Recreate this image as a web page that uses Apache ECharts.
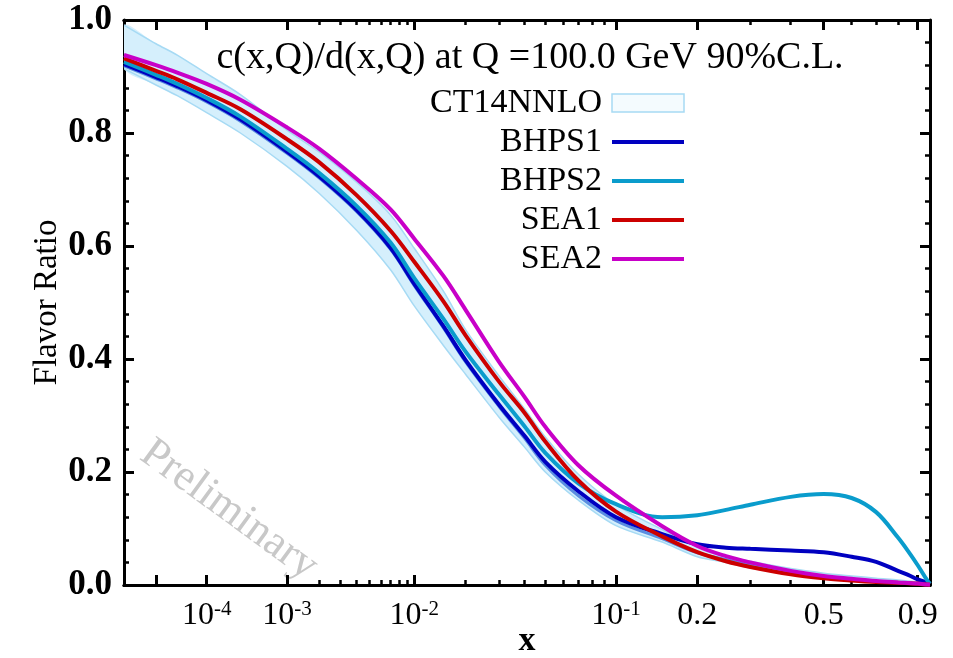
<!DOCTYPE html>
<html><head><meta charset="utf-8">
<script src="https://cdn.jsdelivr.net/npm/echarts@6/dist/echarts.min.js"></script>
<style>html,body{margin:0;padding:0;background:#fff}#c{width:953px;height:658px}</style>
</head><body><div id="c"></div>
<script>
// ---- data (x values, c/d ratio values) ----
const xs      = [1e-6, 1e-5, 3e-5, 1e-4, 3e-4, 1e-3, 2e-3, 4e-3, 7e-3, 1e-2, 1.5e-2, 2e-2, 3e-2, 4e-2, 5e-2, 7e-2, 0.1, 0.15, 0.2, 0.25, 0.3, 0.4, 0.5, 0.6, 0.7, 0.8, 0.85, 0.9, 0.95, 0.967];
const ct14Lo  = [0.914, 0.885, 0.866, 0.836, 0.800, 0.741, 0.693, 0.628, 0.558, 0.494, 0.424, 0.373, 0.297, 0.244, 0.200, 0.150, 0.105, 0.076, 0.050, 0.040, 0.030, 0.019, 0.012, 0.008, 0.005, 0.003, 0.002, 0.0012, 0.0004, 0.0];
const ct14Hi  = [0.991, 0.958, 0.938, 0.905, 0.868, 0.805, 0.766, 0.713, 0.655, 0.596, 0.520, 0.452, 0.370, 0.312, 0.262, 0.196, 0.142, 0.098, 0.068, 0.052, 0.042, 0.029, 0.021, 0.016, 0.012, 0.009, 0.007, 0.005, 0.002, 0.001];
const ct14Mid = [0.919, 0.896, 0.880, 0.855, 0.821, 0.764, 0.720, 0.661, 0.594, 0.530, 0.455, 0.395, 0.316, 0.260, 0.212, 0.158, 0.114, 0.082, 0.057, 0.045, 0.035, 0.023, 0.015, 0.010, 0.0065, 0.0045, 0.0035, 0.0025, 0.001, 0.0005];
const bhps1   = [0.922, 0.899, 0.883, 0.858, 0.824, 0.767, 0.723, 0.664, 0.597, 0.533, 0.458, 0.398, 0.319, 0.264, 0.218, 0.166, 0.120, 0.090, 0.072, 0.066, 0.064, 0.061, 0.058, 0.050, 0.041, 0.025, 0.018, 0.010, 0.0045, 0.002];
const bhps2   = [0.926, 0.903, 0.887, 0.862, 0.829, 0.772, 0.729, 0.671, 0.606, 0.543, 0.471, 0.413, 0.337, 0.281, 0.234, 0.180, 0.143, 0.120, 0.1235, 0.133, 0.142, 0.156, 0.161, 0.154, 0.129, 0.084, 0.060, 0.035, 0.009, 0.002];
const sea1    = [0.932, 0.910, 0.895, 0.871, 0.842, 0.789, 0.748, 0.690, 0.627, 0.572, 0.502, 0.442, 0.360, 0.305, 0.254, 0.185, 0.130, 0.086, 0.058, 0.042, 0.032, 0.019, 0.012, 0.008, 0.0053, 0.004, 0.003, 0.002, 0.001, 0.0005];
const sea2    = [0.938, 0.920, 0.907, 0.887, 0.859, 0.810, 0.772, 0.719, 0.665, 0.613, 0.547, 0.487, 0.395, 0.333, 0.280, 0.212, 0.158, 0.104, 0.069, 0.051, 0.040, 0.025, 0.016, 0.011, 0.007, 0.0045, 0.0035, 0.0025, 0.001, 0.0005];

// ---- axis ticks / labels ----
const xMajorTicks = [1e-5, 1e-4, 1e-3, 1e-2, 0.1, 0.2, 0.5, 0.9];
const xMinorTicks = [2e-3,3e-3,4e-3,5e-3,6e-3,7e-3,8e-3,9e-3, 2e-2,3e-2,4e-2,5e-2,6e-2,7e-2,8e-2,9e-2, 0.3,0.4,0.6,0.7,0.8];
const xLabelTicks = [1e-4, 1e-3, 1e-2, 0.1, 0.2, 0.5, 0.9];
const xLabelBase  = ['10', '10', '10', '10', '0.2', '0.5', '0.9'];
const xLabelSup   = ['-4', '-3', '-2', '-1', '', '', ''];
const legendNames  = ['CT14NNLO', 'BHPS1', 'BHPS2', 'SEA1', 'SEA2'];
const titleText = 'c(x,Q)/d(x,Q) at Q =100.0 GeV 90%C.L.';

const C_BHPS1 = '#0000c0', C_BHPS2 = '#0a9ccc', C_SEA1 = '#cc0000', C_SEA2 = '#c800c8';
const C_BAND = '#d5effc', C_BAND_EDGE = '#a6daf4', C_MID = '#5a8ee0';
const FF = '"Liberation Serif","Times New Roman",serif';

const P = 0.2;
const T = v => Math.pow(v, P);
const X_MIN = 1e-6, X_MAX = 0.967;

function pts(ys) { return xs.map((x, i) => [T(x), ys[i]]); }
function xLabelFmt(v) {
  for (let i = 0; i < xLabelTicks.length; i++) {
    if (Math.abs(T(xLabelTicks[i]) - v) < 1e-6) {
      return xLabelSup[i] ? '{b|' + xLabelBase[i] + '}{s|' + xLabelSup[i] + '}' : '{b|' + xLabelBase[i] + '}';
    }
  }
  return '';
}

function xAx(pos, ticks, len, withLabels) {
  const a = {
    type: 'value', position: pos, min: T(X_MIN), max: T(X_MAX),
    axisLine: { show: true, onZero: false, lineStyle: { color: '#000', width: 3 } },
    axisTick: { show: true, inside: true, length: len, lineStyle: { color: '#000', width: len > 6 ? 3 : 2.5 }, customValues: ticks.map(T) },
    splitLine: { show: false },
    axisLabel: { show: false }
  };
  if (withLabels) {
    a.axisLabel = {
      show: true, customValues: xLabelTicks.map(T), formatter: xLabelFmt, margin: 14,
      rich: {
        b: { fontFamily: FF, fontSize: 32, color: '#000', lineHeight: 34 },
        s: { fontFamily: FF, fontSize: 21, color: '#000', verticalAlign: 'top', lineHeight: 34 }
      }
    };
    a.name = 'x';
    a.nameLocation = 'middle';
    a.nameGap = 39;
    a.nameMoveOverlap = false;
    a.nameTextStyle = { fontFamily: FF, fontSize: 34, fontWeight: 'bold', color: '#000' };
  }
  return a;
}
function yAx(pos, withLabels) {
  const a = {
    type: 'value', position: pos, min: 0, max: 1, interval: 0.2,
    axisLine: { show: true, onZero: false, lineStyle: { color: '#000', width: 3 } },
    axisTick: { show: true, inside: true, length: 10, lineStyle: { color: '#000', width: 3 } },
    minorTick: { show: true, splitNumber: 5, length: 5, lineStyle: { color: '#000', width: 2.5 } },
    splitLine: { show: false }, minorSplitLine: { show: false },
    axisLabel: { show: false }
  };
  if (withLabels) {
    a.axisLabel = { show: true, formatter: v => v.toFixed(1), fontFamily: FF, fontSize: 35, fontWeight: 'bold', color: '#000', margin: 12 };
    a.name = 'Flavor Ratio';
    a.nameLocation = 'middle';
    a.nameGap = 60;
    a.nameMoveOverlap = false;
    a.nameTextStyle = { fontFamily: FF, fontSize: 33, color: '#000' };
  }
  return a;
}

function lineSeries(name, ys, color, w) {
  return { name: name, type: 'line', data: pts(ys), symbol: 'none', smooth: 0.35,
    lineStyle: { color: color, width: w }, xAxisIndex: 0, yAxisIndex: 0 };
}

const legendColors = [null, C_BHPS1, C_BHPS2, C_SEA1, C_SEA2];
const legendY = [103, 142, 181, 220, 259];
const graphic = [
  { type: 'text', x: 530, y: 58, style: { text: titleText, font: '38px ' + FF, fill: '#000', textAlign: 'center', textVerticalAlign: 'middle' } },
  { type: 'text', x: 229, y: 510, rotation: -0.63, style: { text: 'Preliminary', font: '44px ' + FF, fill: '#c8c8c8', textAlign: 'center', textVerticalAlign: 'middle' }, z: 0 }
];
legendNames.forEach((n, i) => {
  graphic.push({ type: 'text', x: 602, y: legendY[i], style: { text: n, font: '34px ' + FF, fill: '#000', textAlign: 'right', textVerticalAlign: 'middle' } });
  if (legendColors[i]) {
    graphic.push({ type: 'line', shape: { x1: 612, y1: legendY[i], x2: 684, y2: legendY[i] }, style: { stroke: legendColors[i], lineWidth: 4 } });
  } else {
    graphic.push({ type: 'rect', shape: { x: 612, y: legendY[i] - 9, width: 72, height: 18 }, style: { fill: '#f4fbfe', stroke: C_BAND_EDGE, lineWidth: 1.5 } });
  }
});

const chart = echarts.init(document.getElementById('c'), null, { renderer: 'canvas' });
chart.setOption({
  animation: false,
  backgroundColor: '#fff',
  grid: { left: 124, right: 23, top: 20, bottom: 73, containLabel: false, outerBoundsMode: 'none' },
  xAxis: [
    xAx('bottom', xMajorTicks, 10, true),
    xAx('bottom', xMinorTicks, 5, false),
    xAx('top', xMajorTicks, 10, false),
    xAx('top', xMinorTicks, 5, false)
  ],
  yAxis: [yAx('left', true), yAx('right', false)],
  graphic: graphic,
  series: [
    {
      name: 'CT14NNLO', type: 'custom', data: [[T(xs[0]), ct14Hi[0]]], clip: true, z: 1,
      renderItem: function (params, api) {
        const top = xs.map((x, i) => api.coord([T(x), ct14Hi[i]]));
        const bot = xs.map((x, i) => api.coord([T(x), ct14Lo[i]]));
        return {
          type: 'group', children: [
            { type: 'polygon', shape: { points: top.concat(bot.slice().reverse()), smooth: 0.3 }, style: { fill: C_BAND, stroke: null } },
            { type: 'polyline', shape: { points: top, smooth: 0.3 }, style: { stroke: C_BAND_EDGE, lineWidth: 1.5, fill: null } },
            { type: 'polyline', shape: { points: bot, smooth: 0.3 }, style: { stroke: C_BAND_EDGE, lineWidth: 1.5, fill: null } }
          ]
        };
      }
    },
    lineSeries('CT14 central', ct14Mid, C_MID, 3),
    lineSeries('BHPS1', bhps1, C_BHPS1, 4),
    lineSeries('BHPS2', bhps2, C_BHPS2, 4),
    lineSeries('SEA1', sea1, C_SEA1, 4),
    lineSeries('SEA2', sea2, C_SEA2, 4)
  ]
});
</script></body></html>
